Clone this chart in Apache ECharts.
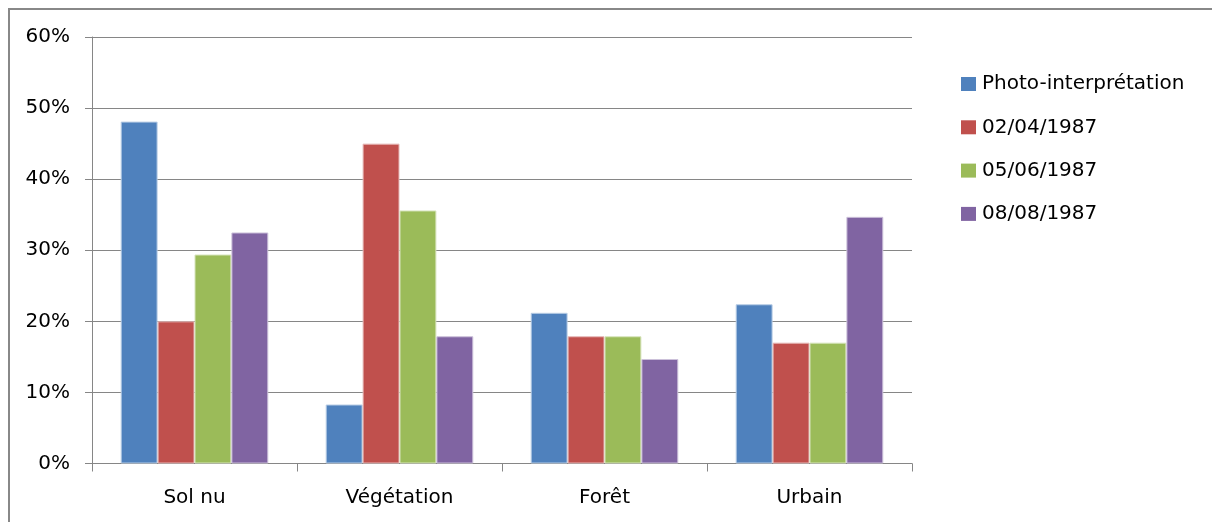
<!DOCTYPE html>
<html>
<head>
<meta charset="utf-8">
<script src="https://cdn.jsdelivr.net/npm/echarts@6/dist/echarts.min.js"></script>
<style>
html,body{margin:0;padding:0;background:#fff;}
#chart{width:1212px;height:522px;}
</style>
</head>
<body>
<div id="chart"></div>
<script>
const categories = ['Sol nu', 'Végétation', 'Forêt', 'Urbain'];
const seriesNames = ['Photo-interprétation', '02/04/1987', '05/06/1987', '08/08/1987'];
const photoInterpretation = [48.1, 8.3, 21.2, 22.4];
const d19870402 = [20.0, 45.0, 17.9, 17.0];
const d19870605 = [29.4, 35.6, 17.9, 17.0];
const d19870808 = [32.5, 17.9, 14.7, 34.7];
const yTicks = [0, 10, 20, 30, 40, 50, 60];

const colors = ['#4F81BD', '#C0504D', '#9BBB59', '#8064A2'];
const borders = ['#B9CDE5', '#E6B9B8', '#D7E4BD', '#CCC1DA'];
const values = [photoInterpretation, d19870402, d19870605, d19870808];

const chart = echarts.init(document.getElementById('chart'), null, {renderer: 'canvas'});
const font = 'DejaVu Sans';
chart.setOption({
  animation: false,
  backgroundColor: '#fff',
  graphic: [{
    type: 'polyline',
    shape: {points: [[9, 522], [9, 9], [1212, 9]]},
    style: {stroke: '#888', lineWidth: 2, fill: null},
    silent: true
  }],
  grid: {left: 92, top: 37, right: 300, bottom: 58.5},
  legend: {
    orient: 'vertical',
    left: 956,
    top: 69,
    itemWidth: 15,
    itemHeight: 14,
    itemGap: 23.3,
    icon: 'rect',
    itemStyle: {borderWidth: 0},
    textStyle: {fontFamily: font, fontSize: 20, color: '#000', lineHeight: 20, padding: [0, 0, 0, 1]},
    data: seriesNames
  },
  xAxis: {
    type: 'category',
    data: categories,
    axisLine: {lineStyle: {color: '#868686', width: 1}},
    axisTick: {show: true, length: 8, lineStyle: {color: '#868686'}},
    axisLabel: {fontFamily: font, fontSize: 20, color: '#000', margin: 24}
  },
  yAxis: {
    type: 'value',
    min: yTicks[0],
    max: yTicks[yTicks.length - 1],
    interval: 10,
    axisLine: {show: true, lineStyle: {color: '#868686', width: 1}},
    axisTick: {show: true, length: 7, lineStyle: {color: '#868686'}},
    splitLine: {lineStyle: {color: '#868686', width: 1}},
    axisLabel: {fontFamily: font, fontSize: 20, color: '#000', margin: 22, formatter: v => v + '%'}
  },
  series: seriesNames.map((name, i) => ({
    name: name,
    type: 'bar',
    data: values[i],
    barGap: '0%',
    barCategoryGap: '28%',
    itemStyle: {color: colors[i], borderColor: borders[i], borderWidth: 1}
  }))
});
</script>
</body>
</html>
